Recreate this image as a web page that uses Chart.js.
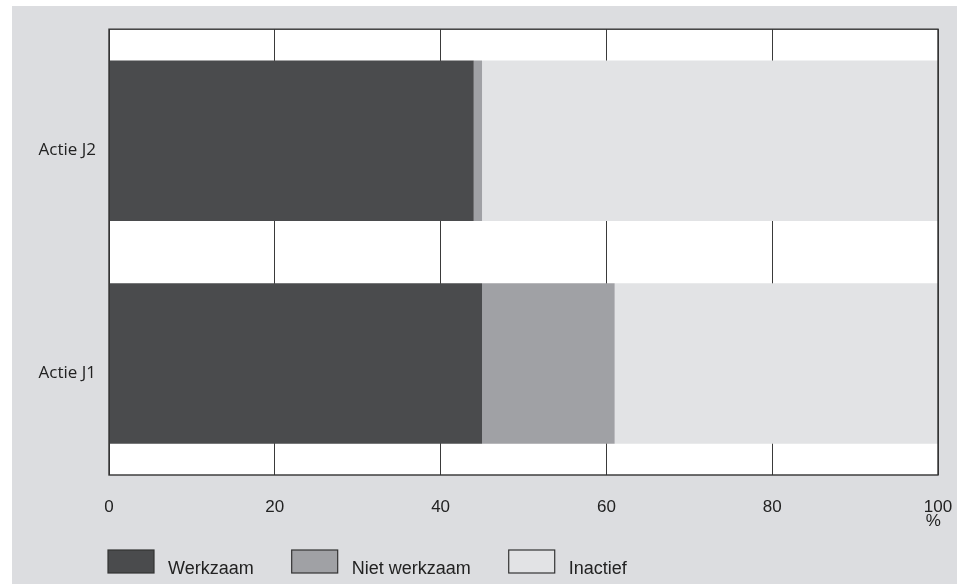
<!DOCTYPE html>
<html>
<head>
<meta charset="utf-8">
<script src="https://cdn.jsdelivr.net/npm/chart.js@4.4.1/dist/chart.umd.min.js"></script>
<style>
    html, body { margin: 0; padding: 0; background: #ffffff; }
    #panel {
        position: absolute; left: 12px; top: 6px;
        width: 945px; height: 578px;
        background: #dcdde0;
    }
</style>
</head>
<body>
<div id="panel"><canvas id="chartActies" width="945" height="578"></canvas></div>
<script>
// categorieen (boven naar beneden)
var labelsActies = ["Actie J2", "Actie J1"];

// reeksen, %
var dataWerkzaam = [44, 45];
var dataNietWerkzaam = [1, 16];
var dataInactief = [55, 39];

// x-as ticks
var ticksX = [0, 20, 40, 60, 80, 100];

var dataChartActies = {
    labels: labelsActies,
    datasets: [{
        label: "Werkzaam",
        backgroundColor: "#4a4b4d",
        data: dataWerkzaam
    }, {
        label: "Niet werkzaam",
        backgroundColor: "#a0a1a5",
        data: dataNietWerkzaam
    }, {
        label: "Inactief",
        backgroundColor: "#e2e3e5",
        data: dataInactief
    }]
};

// witte achtergrond + kader van plotgebied
var plotBox = {
    id: "plotBox",
    beforeDraw: function(chart) {
        var a = chart.chartArea, ctx = chart.ctx;
        ctx.save();
        ctx.fillStyle = "#ffffff";
        ctx.fillRect(a.left, a.top, a.right - a.left, a.bottom - a.top);
        ctx.restore();
    },
    afterDatasetsDraw: function(chart) {
        var a = chart.chartArea, ctx = chart.ctx;
        ctx.save();
        ctx.strokeStyle = "#333333";
        ctx.lineWidth = 1.4;
        ctx.strokeRect(a.left, a.top, a.right - a.left, a.bottom - a.top);
        ctx.restore();
    }
};

// legenda onder de grafiek
var legendaOnder = {
    id: "legendaOnder",
    afterDraw: function(chart) {
        var ctx = chart.ctx;
        var x = chart.chartArea.left - 1;
        var y = 544;
        ctx.save();
        ctx.font = "18px 'Liberation Sans', Arial, sans-serif";
        ctx.textBaseline = "alphabetic";
        chart.data.datasets.forEach(function(ds) {
            ctx.fillStyle = ds.backgroundColor;
            ctx.fillRect(x, y, 46, 23);
            ctx.strokeStyle = "#333333";
            ctx.lineWidth = 1.2;
            ctx.strokeRect(x, y, 46, 23);
            ctx.fillStyle = "#222222";
            ctx.fillText(ds.label, x + 60, y + 24);
            x += 60 + ctx.measureText(ds.label).width + 38;
        });
        ctx.restore();
    }
};

var myChartActies = new Chart(document.getElementById("chartActies").getContext("2d"), {
    type: "bar",
    data: dataChartActies,
    plugins: [plotBox, legendaOnder],
    options: {
        indexAxis: "y",
        responsive: false,
        animation: false,
        barPercentage: 0.72,
        categoryPercentage: 1,
        layout: { padding: { left: 0, right: 19, top: 23, bottom: 0 } },
        plugins: {
            legend: { display: false },
            tooltip: { enabled: false }
        },
        scales: {
            x: {
                stacked: true,
                min: 0,
                max: 100,
                afterBuildTicks: function(scale) {
                    scale.ticks = ticksX.map(function(v) { return { value: v }; });
                },
                afterFit: function(scale) {
                    scale.height = 109;
                    scale.paddingLeft = 0;
                    scale.paddingRight = 0;
                },
                grid: { color: "#3a3a3a", lineWidth: 1, drawTicks: false },
                border: { display: false },
                ticks: {
                    padding: 25,
                    color: "#222222",
                    maxRotation: 0,
                    font: { family: "'Liberation Sans', Arial, sans-serif", size: 17, lineHeight: 0.85 },
                    callback: function(v) { return v === 100 ? ["100", "%  "] : String(v); }
                }
            },
            y: {
                stacked: true,
                afterFit: function(scale) { scale.width = 97; },
                grid: { display: false, drawTicks: false },
                border: { display: false },
                ticks: {
                    padding: 13,
                    labelOffset: 10,
                    color: "#222222",
                    font: { family: "'Open Sans', sans-serif", size: 17 }
                }
            }
        }
    }
});
</script>
</body>
</html>
